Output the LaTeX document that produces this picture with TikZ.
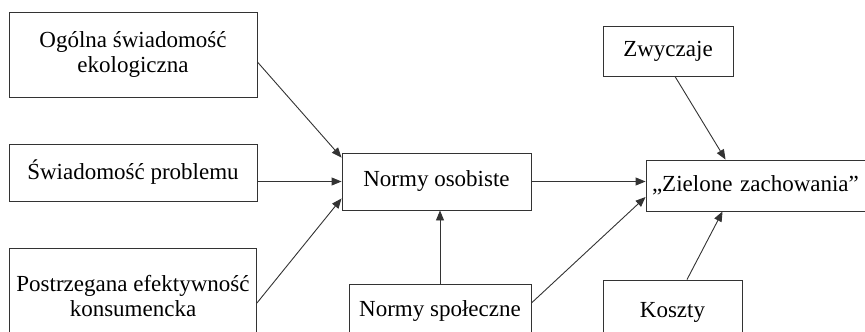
\documentclass[tikz,border=0pt]{standalone}
\usepackage{fontspec}
\setmainfont{Liberation Serif}
\usetikzlibrary{positioning, arrows.meta, calc}

\begin{document}
\begin{tikzpicture}[x=1pt, y=-1pt,
		myline/.style={draw=black!80, line width=0.9pt},
		box/.style={myline, align=center, inner sep=2pt, font=\fontsize{23}{25}\selectfont},
		>={Triangle[length=10pt, width=8pt]}]
		
		\useasboundingbox (0,0) rectangle (865,332);
		
		\node[box, minimum width=248pt, minimum height=85pt] at (133,54.5)  (ogolna) {Ogólna świadomość\\ekologiczna};
		\node[box, minimum width=248pt, minimum height=57pt] at (133,172.5) (problem) {Świadomość problemu};
		\node[box, minimum width=247pt, minimum height=96pt] at (133,296)   (efekt) {Postrzegana efektywność\\konsumencka};
		
		\node[box, minimum width=189pt, minimum height=57pt] at (436.5,181.5) (osob) {Normy osobiste};
		\node[box, minimum width=182pt, minimum height=54pt] at (440,311)     (spol) {Normy społeczne};
		
		\node[box, minimum width=130pt, minimum height=50pt] at (668,51)      (zwycz) {Zwyczaje};
		\node[box, text width=220pt, inner xsep=6pt, align=left, minimum height=51pt] at (762,185.5) (ziel) {„Zielone zachowania”};
		\node[box, minimum width=139pt, minimum height=64pt] at (672.5,312)   (koszty) {Koszty};
		
		\draw[->, myline]  ([yshift=-7.5pt]ogolna.east) -- ([yshift=-5pt]osob.north west);
		\draw[->, myline]  (problem.east |- osob.west) -- (osob.west);
		\draw[->, myline]  ([yshift=-7pt]efekt.east) -- ([yshift=12pt]osob.south west);
		\draw[->, myline]  (spol.north) -- (spol.north |- osob.south);
		
		\draw[->, myline]  (osob.east) -- (osob.east -| ziel.west);
		\draw[->, myline]  ([yshift=8pt]spol.east) -- ([yshift=-11.5pt]ziel.west);
		\draw[->, myline]  ([xshift=7pt]zwycz.south) -- ([xshift=80pt]ziel.north west);
		\draw[->, myline]  ([xshift=14.5pt]koszty.north) -- ([xshift=77pt]ziel.south west);
	\end{tikzpicture}
\end{document}
